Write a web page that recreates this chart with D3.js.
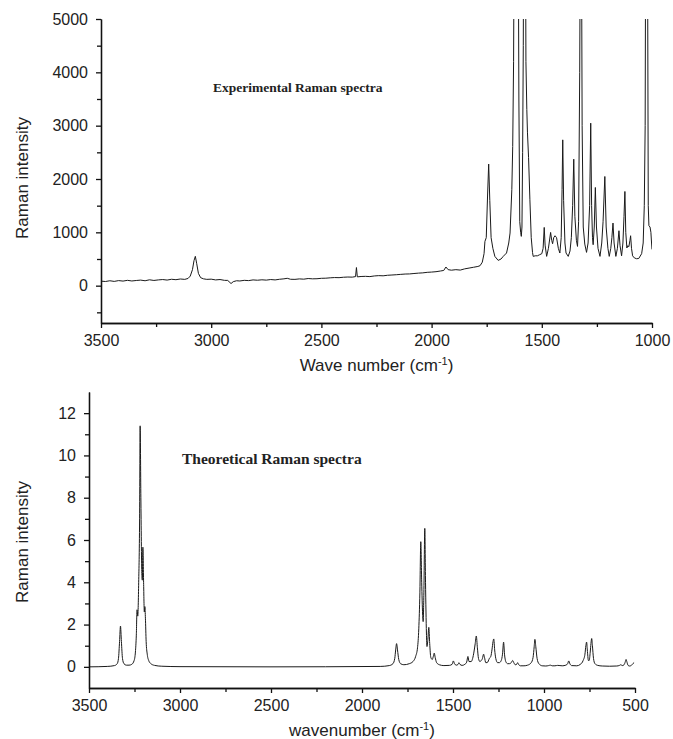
<!DOCTYPE html>
<html>
<head>
	<title>Raman spectra</title>
	<script src="https://d3js.org/d3.v7.min.js"></script>
	<style>
		body { margin: 0; background: #fff; }
		.tick text { font-family: "Liberation Sans", Arial, sans-serif; font-size: 16px; fill: #222; }
		.domain, .tick line { stroke: #111; stroke-width: 1.3; }
	</style>
</head>
<body>
	<svg width="673" height="739" id="chart"></svg>
<script>
	// experimental spectrum (wave number, intensity)
	var expWave = [3500,3480,3460,3440,3420,3400,3380,3360,3340,3320,3300,3280,3260,3240,3220,3200,3180,3160,3140,3120,
		3105,3095,3085,3078,3072,3066,3058,3048,3035,3020,3000,2980,2960,2940,2925,2910,2900,2885,2870,2850,
		2830,2810,2790,2770,2750,2730,2710,2690,2670,2655,2640,2620,2600,2580,2560,2540,2520,2500,2480,2460,
		2440,2420,2400,2380,2360,2345,2341,2337,2320,2300,2280,2260,2240,2220,2200,2180,2160,2140,2120,2100,
		2080,2060,2040,2020,2000,1980,1960,1945,1935,1925,1910,1890,1870,1850,1830,1810,1790,1780,1770,1762,
		1758,1752,1746,1741,1736,1730,1722,1713,1698,1685,1675,1660,1650,1644,1636,1632,1628,1624,1616,1608,
		1604,1600,1596,1593,1590,1587,1584,1581,1578,1575,1572,1568,1565,1560,1554,1548,1542,1539,1530,1520,
		1510,1500,1494,1489,1485,1478,1470,1460,1455,1451,1446,1440,1433,1425,1418,1412,1408,1405,1401,1395,
		1390,1380,1372,1366,1360,1355,1350,1343,1338,1333,1328,1324,1321,1317,1312,1305,1297,1290,1283,1278,
		1274,1270,1267,1262,1257,1252,1245,1236,1228,1222,1214,1208,1200,1194,1187,1182,1177,1172,1164,1157,
		1150,1145,1138,1132,1127,1123,1119,1114,1110,1105,1100,1097,1093,1088,1080,1070,1060,1047,1040,1035,
		1031,1028,1024,1020,1017,1014,1009,1005,1002,1000];
	var expInt = [85,78,92,80,95,86,100,88,97,104,92,110,98,108,115,105,120,112,125,118,
		135,180,300,470,550,420,230,150,128,118,122,108,115,100,98,40,75,92,88,100,
		95,108,102,110,104,115,108,120,128,138,120,118,127,122,134,128,130,138,140,147,
		152,150,158,162,160,170,340,165,172,175,170,182,188,185,195,200,205,212,218,220,
		228,235,240,250,255,262,275,285,350,300,290,300,292,315,330,345,360,375,440,600,
		830,900,1700,2280,1600,900,700,549,474,500,549,612,800,987,1800,2609,4200,8000,12000,8000,
		3500,1200,1000,924,1100,2500,4500,9000,12000,8000,4200,3300,2865,2400,1610,900,620,549,560,560,
		580,600,700,1092,760,549,700,998,850,786,900,936,900,700,612,900,1800,2734,1600,800,
		612,549,650,900,1500,2372,1300,850,736,1200,4000,8000,8000,3000,1100,780,624,800,1500,3047,
		1500,900,768,1100,1841,1100,700,549,800,1200,2047,1100,700,549,700,900,1174,800,549,700,
		1030,750,560,800,1300,1766,1000,706,750,730,850,936,700,560,520,505,510,600,800,1500,
		3000,8000,12000,6000,1500,1124,1100,1000,800,680];

	// theoretical spectrum (wavenumber, intensity)
	var thWave = [3500,3400,3360,3345,3338,3332,3327,3322,3316,3308,3295,3280,3265,3252,3245,3240,3236,3232,3227,3222,
		3219,3215,3210,3207,3204,3200,3196,3193,3190,3186,3180,3172,3160,3140,3100,3000,2500,1900,1850,1830,
		1820,1815,1810,1805,1798,1788,1770,1740,1720,1705,1695,1688,1682,1677,1672,1667,1664,1660,1655,1651,
		1646,1643,1638,1633,1628,1622,1614,1608,1603,1598,1590,1575,1550,1520,1505,1498,1492,1482,1472,1467,
		1462,1450,1435,1425,1418,1412,1400,1392,1385,1378,1372,1366,1360,1352,1345,1338,1332,1327,1320,1312,
		1300,1292,1286,1280,1276,1271,1265,1255,1245,1235,1228,1222,1217,1210,1200,1190,1180,1172,1166,1158,
		1150,1145,1140,1130,1110,1090,1070,1060,1054,1050,1045,1038,1028,1010,990,975,965,955,940,925,
		900,880,870,864,858,848,820,800,785,775,770,766,762,756,752,746,742,738,734,728,
		720,705,680,640,600,585,578,570,560,553,549,545,538,530,520,512,505];
	var thInt = [0,0.02,0.06,0.15,0.4,1.2,1.93,1.2,0.4,0.15,0.08,0.08,0.12,0.3,0.7,1.5,2.7,2.4,4,7,
		11.4,8,4.5,4.1,5.66,4,2.6,2.85,2.3,1.2,0.6,0.3,0.15,0.07,0.03,0.01,0,0.02,0.06,0.15,
		0.4,0.8,1.1,0.8,0.35,0.15,0.1,0.15,0.25,0.5,0.9,1.8,3.5,5.92,4,2.5,2.14,3.5,6.55,4,
		1.6,0.96,1.3,1.87,1.1,0.45,0.35,0.5,0.65,0.45,0.2,0.1,0.06,0.07,0.12,0.28,0.15,0.08,0.12,0.2,
		0.12,0.07,0.12,0.22,0.49,0.25,0.25,0.4,0.7,1.1,1.46,0.9,0.4,0.25,0.3,0.4,0.6,0.45,0.2,0.2,
		0.4,0.5,0.8,1.2,1.32,0.8,0.4,0.2,0.2,0.3,0.6,1.17,0.6,0.25,0.15,0.15,0.2,0.3,0.2,0.1,
		0.12,0.2,0.12,0.05,0.05,0.08,0.2,0.45,0.95,1.3,0.95,0.4,0.15,0.05,0.04,0.06,0.08,0.05,0.05,0.07,
		0.05,0.08,0.15,0.28,0.15,0.06,0.05,0.12,0.3,0.6,1.0,1.17,0.8,0.3,0.3,0.7,1.1,1.34,1.0,0.4,
		0.15,0.07,0.04,0.03,0.04,0.07,0.1,0.06,0.1,0.25,0.35,0.25,0.07,0.04,0.07,0.15,0.2];

	var expXTicks = [3500,3000,2500,2000,1500,1000]
	var expYTicks = [0,1000,2000,3000,4000,5000]
	var thXTicks = [3500,3000,2500,2000,1500,1000,500]
	var thYTicks = [0,2,4,6,8,10,12]

	var svg = d3.select("#chart")
	svg.append("rect").attr("width", 673).attr("height", 739).attr("fill", "#fff")

	function panel(opt) {
		var x = d3.scaleLinear().domain(opt.xDomain).range(opt.xRange)
		var y = d3.scaleLinear().domain(opt.yDomain).range(opt.yRange)
		var g = svg.append("g")
		var id = "clip" + opt.name

		g.append("clipPath").attr("id", id)
			.append("rect")
			.attr("x", opt.xRange[0]).attr("y", opt.yRange[1])
			.attr("width", opt.xRange[1] - opt.xRange[0])
			.attr("height", opt.yRange[0] - opt.yRange[1])

		var pts = opt.wave.map(function(w, i) { return [w, opt.vals[i]] })
		var line = d3.line()
			.x(function(d) { return x(d[0]) })
			.y(function(d) { return y(d[1]) })
			.curve(opt.curve)

		g.append("path")
			.datum(pts)
			.attr("clip-path", "url(#" + id + ")")
			.attr("fill", "none")
			.attr("stroke", "#1a1a1a")
			.attr("stroke-width", 1)
			.attr("stroke-linejoin", "round")
			.attr("d", line)

		// minor ticks first, then the labelled axis on top
		g.append("g")
			.attr("transform", "translate(0," + opt.yRange[0] + ")")
			.call(d3.axisBottom(x).tickValues(opt.xMinor).tickSize(4).tickSizeOuter(0).tickFormat(""))
		g.append("g")
			.attr("transform", "translate(" + opt.xRange[0] + ",0)")
			.call(d3.axisLeft(y).tickValues(opt.yMinor).tickSize(4).tickSizeOuter(0).tickFormat(""))

		g.append("g")
			.attr("transform", "translate(0," + opt.yRange[0] + ")")
			.call(d3.axisBottom(x).tickValues(opt.xTicks).tickSize(5).tickSizeOuter(0)
				.tickPadding(7).tickFormat(d3.format("d")))
		g.append("g")
			.attr("transform", "translate(" + opt.xRange[0] + ",0)")
			.call(d3.axisLeft(y).tickValues(opt.yTicks).tickSize(5).tickSizeOuter(0)
				.tickPadding(8).tickFormat(d3.format("d")))

		// axis titles
		var xt = g.append("text")
			.attr("x", (opt.xRange[0] + opt.xRange[1]) / 2)
			.attr("y", opt.xTitleY)
			.attr("text-anchor", "middle")
			.style("font-family", "'Liberation Sans', Arial, sans-serif")
			.style("font-size", "17px")
			.style("fill", "#222")
			.text(opt.xTitle + " (cm")
		xt.append("tspan").attr("dy", -6).style("font-size", "11px").text("-1")
		xt.append("tspan").attr("dy", 6).text(")")

		g.append("text")
			.attr("transform", "translate(" + opt.yTitleX + "," + opt.yTitleY + ") rotate(-90)")
			.attr("text-anchor", "middle")
			.style("font-family", "'Liberation Sans Narrow', 'Liberation Sans', Arial, sans-serif")
			.style("font-size", "17px")
			.style("fill", "#222")
			.text("Raman intensity")

		g.append("text")
			.attr("x", opt.labelX).attr("y", opt.labelY)
			.style("font-family", "'Liberation Serif', 'Times New Roman', serif")
			.style("font-weight", "bold")
			.style("font-size", opt.labelSize)
			.style("fill", "#222")
			.text(opt.label)
	}

	panel({
		name: "exp", wave: expWave, vals: expInt, curve: d3.curveLinear,
		xDomain: [3500, 1000], xRange: [101, 652],
		yDomain: [-700, 5000], yRange: [323, 19],
		xTicks: expXTicks, yTicks: expYTicks,
		xMinor: d3.range(3250, 1000, -500), yMinor: [-500, 500, 1500, 2500, 3500, 4500],
		xTitle: "Wave number", xTitleY: 371, yTitleX: 28, yTitleY: 178,
		label: "Experimental Raman spectra", labelX: 213, labelY: 92, labelSize: "13.5px"
	})

	panel({
		name: "th", wave: thWave, vals: thInt, curve: d3.curveMonotoneX,
		xDomain: [3500, 500], xRange: [89, 635],
		yDomain: [-1, 13], yRange: [688, 392],
		xTicks: thXTicks, yTicks: thYTicks,
		xMinor: d3.range(3250, 500, -500), yMinor: [1, 3, 5, 7, 9, 11],
		xTitle: "wavenumber", xTitleY: 736, yTitleX: 28, yTitleY: 542,
		label: "Theoretical Raman spectra", labelX: 182, labelY: 464, labelSize: "15.5px"
	})
</script>
</body>
</html>
